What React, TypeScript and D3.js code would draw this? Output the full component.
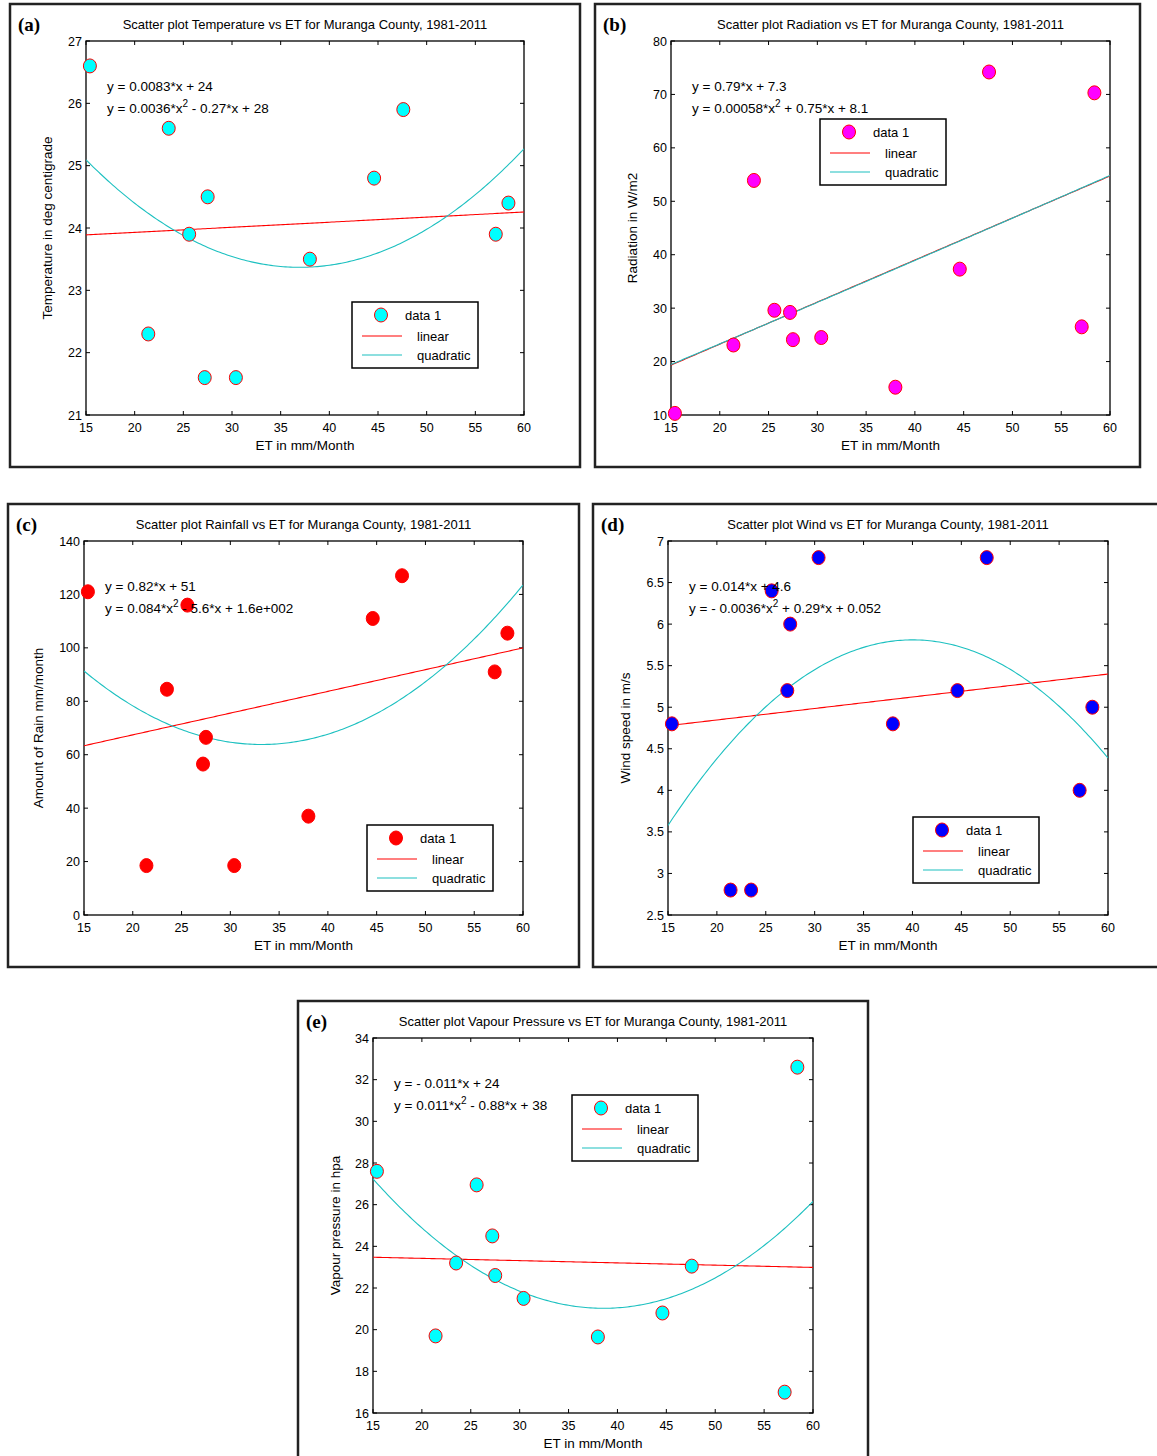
import React from 'react';
import * as d3 from 'd3';

// ET (mm/Month) shared by every panel, one value per month
const etValues = [15.4, 21.4, 23.5, 25.6, 27.2, 27.5, 30.4, 38.0, 44.6, 47.6, 57.1, 58.4];
const temperature = [26.6, 22.3, 25.6, 23.9, 21.6, 24.5, 21.6, 23.5, 24.8, 25.9, 23.9, 24.4];
const radiation = [10.3, 23.1, 53.9, 29.6, 29.2, 24.1, 24.5, 15.2, 37.3, 74.2, 26.5, 70.3];
const rainfall = [121, 18.5, 84.5, 116, 56.5, 66.5, 18.5, 37, 111, 127, 91, 105.5];
const wind = [4.8, 2.8, 2.8, 6.4, 5.2, 6.0, 6.8, 4.8, 5.2, 6.8, 4.0, 5.0];
const vapour = [27.6, 19.7, 23.2, 26.95, 24.5, 22.6, 21.5, 19.65, 20.8, 23.05, 17.0, 32.6];

const xTicks = [15, 20, 25, 30, 35, 40, 45, 50, 55, 60];
const tempTicks = [21, 22, 23, 24, 25, 26, 27];
const radTicks = [10, 20, 30, 40, 50, 60, 70, 80];
const rainTicks = [0, 20, 40, 60, 80, 100, 120, 140];
const windTicks = [2.5, 3, 3.5, 4, 4.5, 5, 5.5, 6, 6.5, 7];
const vapTicks = [16, 18, 20, 22, 24, 26, 28, 30, 32, 34];

const legendLabels = ['data 1', 'linear', 'quadratic'];

const SANS = '"Liberation Sans", Arial, Helvetica, sans-serif';
const SERIF = '"Liberation Serif", "Times New Roman", serif';
const FIT_RED = '#ff0000';
const FIT_CYAN = '#1cc0c0';

// least squares polynomial fit, returns [c0, c1, c2...]
function polyfit(xs: number[], ys: number[], deg: number) {
  const n = deg + 1;
  const A: number[][] = [];
  for (let i = 0; i < n; i++) {
    A.push([]);
    for (let j = 0; j < n; j++) A[i].push(d3.sum(xs, (x) => Math.pow(x, i + j)));
    A[i].push(d3.sum(xs, (x, k) => ys[k] * Math.pow(x, i)));
  }
  for (let c = 0; c < n; c++) {
    let p = c;
    for (let r = c + 1; r < n; r++) if (Math.abs(A[r][c]) > Math.abs(A[p][c])) p = r;
    [A[c], A[p]] = [A[p], A[c]];
    for (let r = 0; r < n; r++) {
      if (r === c) continue;
      const f = A[r][c] / A[c][c];
      for (let k = c; k <= n; k++) A[r][k] -= f * A[c][k];
    }
  }
  return A.map((row, i) => row[n] / row[i]);
}

const evalPoly = (c: number[], x: number) => c.reduce((s, v, i) => s + v * Math.pow(x, i), 0);

const panels = [
  {
    id: 'a', letter: '(a)',
    frame: [10, 4, 580, 467], plot: [86, 41, 524, 415],
    yDomain: [21, 27], yTicks: tempTicks, values: temperature, fill: '#00ffff',
    title: 'Scatter plot Temperature vs ET for Muranga County, 1981-2011',
    yLabel: 'Temperature in deg centigrade', yLabelOff: 34,
    eq1: 'y = 0.0083*x + 24', eq2: ['y = 0.0036*x', ' - 0.27*x + 28'],
    legend: [352, 302],
  },
  {
    id: 'b', letter: '(b)',
    frame: [595, 4, 1140, 467], plot: [671, 41, 1110, 415],
    yDomain: [10, 80], yTicks: radTicks, values: radiation, fill: '#ff00ff',
    title: 'Scatter plot Radiation vs ET for Muranga County, 1981-2011',
    yLabel: 'Radiation in W/m2', yLabelOff: 34,
    eq1: 'y = 0.79*x + 7.3', eq2: ['y = 0.00058*x', ' + 0.75*x + 8.1'],
    legend: [820, 119],
  },
  {
    id: 'c', letter: '(c)',
    frame: [8, 504, 579, 967], plot: [84, 541, 523, 915],
    yDomain: [0, 140], yTicks: rainTicks, values: rainfall, fill: '#ff0000',
    title: 'Scatter plot Rainfall vs ET for Muranga County, 1981-2011',
    yLabel: 'Amount of Rain mm/month', yLabelOff: 41,
    eq1: 'y = 0.82*x + 51', eq2: ['y = 0.084*x', ' - 5.6*x + 1.6e+002'],
    legend: [367, 825],
  },
  {
    id: 'd', letter: '(d)',
    frame: [593, 504, 1162, 967], plot: [668, 541, 1108, 915],
    yDomain: [2.5, 7], yTicks: windTicks, values: wind, fill: '#0000ff',
    title: 'Scatter plot Wind vs ET for Muranga County, 1981-2011',
    yLabel: 'Wind speed in m/s', yLabelOff: 38,
    eq1: 'y = 0.014*x + 4.6', eq2: ['y = - 0.0036*x', ' + 0.29*x + 0.052'],
    legend: [913, 817],
  },
  {
    id: 'e', letter: '(e)',
    frame: [298, 1001, 868, 1462], plot: [373, 1038, 813, 1413],
    yDomain: [16, 34], yTicks: vapTicks, values: vapour, fill: '#00ffff',
    title: 'Scatter plot Vapour Pressure vs ET for Muranga County, 1981-2011',
    yLabel: 'Vapour pressure in hpa', yLabelOff: 33,
    eq1: 'y = - 0.011*x + 24', eq2: ['y = 0.011*x', ' - 0.88*x + 38'],
    legend: [572, 1095],
  },
];

const Marker = ({ cx, cy, fill }: any) => (
  <ellipse cx={cx} cy={cy} rx={6.5} ry={7} fill={fill} stroke="#ff0000" strokeWidth={1} />
);

function Panel({ p }: any) {
  const [fx0, fy0, fx1, fy1] = p.frame;
  const [px0, py0, px1, py1] = p.plot;
  const x = d3.scaleLinear().domain([15, 60]).range([px0, px1]);
  const y = d3.scaleLinear().domain(p.yDomain).range([py1, py0]);
  const lin = polyfit(etValues, p.values, 1);
  const quad = polyfit(etValues, p.values, 2);
  const grid = d3.range(15, 60.001, 0.25);
  const path = (c: number[]) =>
    d3.line<number>().x((d) => x(d)).y((d) => y(evalPoly(c, d)))(grid) || '';
  const tl = 4;
  const [lx, ly] = p.legend;
  const cx = (px0 + px1) / 2;
  const cy = (py0 + py1) / 2;

  return (
    <g>
      <rect x={fx0} y={fy0} width={fx1 - fx0} height={fy1 - fy0} fill="#fff" stroke="#222" strokeWidth={2.5} />
      <text x={fx0 + 8} y={fy0 + 27} fontFamily={SERIF} fontWeight="bold" fontSize={19}>{p.letter}</text>
      <text x={cx} y={py0 - 12} textAnchor="middle" fontFamily={SANS} fontSize={13}>{p.title}</text>

      <clipPath id={`clip-${p.id}`}>
        <rect x={px0} y={py0} width={px1 - px0} height={py1 - py0} />
      </clipPath>

      {/* ticks on all four sides, pointing inward */}
      {xTicks.map((t) => (
        <g key={`x${t}`}>
          <line x1={x(t)} x2={x(t)} y1={py1} y2={py1 - tl} stroke="#000" />
          <line x1={x(t)} x2={x(t)} y1={py0} y2={py0 + tl} stroke="#000" />
          <text x={x(t)} y={py1 + 17} textAnchor="middle" fontFamily={SANS} fontSize={12.5}>{t}</text>
        </g>
      ))}
      {p.yTicks.map((t: number) => (
        <g key={`y${t}`}>
          <line x1={px0} x2={px0 + tl} y1={y(t)} y2={y(t)} stroke="#000" />
          <line x1={px1} x2={px1 - tl} y1={y(t)} y2={y(t)} stroke="#000" />
          <text x={px0 - 4} y={y(t) + 4.5} textAnchor="end" fontFamily={SANS} fontSize={12.5}>{t}</text>
        </g>
      ))}
      <rect x={px0} y={py0} width={px1 - px0} height={py1 - py0} fill="none" stroke="#000" strokeWidth={1.3} />

      <text x={cx} y={py1 + 35} textAnchor="middle" fontFamily={SANS} fontSize={13.5}>ET in mm/Month</text>
      <text transform={`translate(${px0 - p.yLabelOff},${cy}) rotate(-90)`} textAnchor="middle"
        fontFamily={SANS} fontSize={13.5}>{p.yLabel}</text>

      <g clipPath={`url(#clip-${p.id})`}>
        <path d={path(lin)} fill="none" stroke={FIT_RED} strokeWidth={1.1} />
        <path d={path(quad)} fill="none" stroke={FIT_CYAN} strokeWidth={1.1} />
      </g>

      {etValues.map((v, i) => (
        <Marker key={i} cx={x(v)} cy={y(p.values[i])} fill={p.fill} />
      ))}

      <text x={px0 + 21} y={py0 + 50} fontFamily={SANS} fontSize={13.5}>{p.eq1}</text>
      <text x={px0 + 21} y={py0 + 72} fontFamily={SANS} fontSize={13.5}>
        {p.eq2[0]}
        <tspan dy={-6} fontSize={10}>2</tspan>
        <tspan dy={6}>{p.eq2[1]}</tspan>
      </text>

      <g>
        <rect x={lx} y={ly} width={126} height={66} fill="#fff" stroke="#000" strokeWidth={1.5} />
        <Marker cx={lx + 29} cy={ly + 13} fill={p.fill} />
        <text x={lx + 53} y={ly + 18} fontFamily={SANS} fontSize={13}>{legendLabels[0]}</text>
        <line x1={lx + 10} x2={lx + 50} y1={ly + 34} y2={ly + 34} stroke={FIT_RED} strokeWidth={1.1} />
        <text x={lx + 65} y={ly + 39} fontFamily={SANS} fontSize={13}>{legendLabels[1]}</text>
        <line x1={lx + 10} x2={lx + 50} y1={ly + 53} y2={ly + 53} stroke={FIT_CYAN} strokeWidth={1.1} />
        <text x={lx + 65} y={ly + 58} fontFamily={SANS} fontSize={13}>{legendLabels[2]}</text>
      </g>
    </g>
  );
}

export default function App() {
  return (
    <svg width={1157} height={1456} style={{ position: 'absolute', left: 0, top: 0, background: '#fff' }}>
      <rect width={1157} height={1456} fill="#fff" />
      {panels.map((p) => (
        <Panel key={p.id} p={p} />
      ))}
    </svg>
  );
}
